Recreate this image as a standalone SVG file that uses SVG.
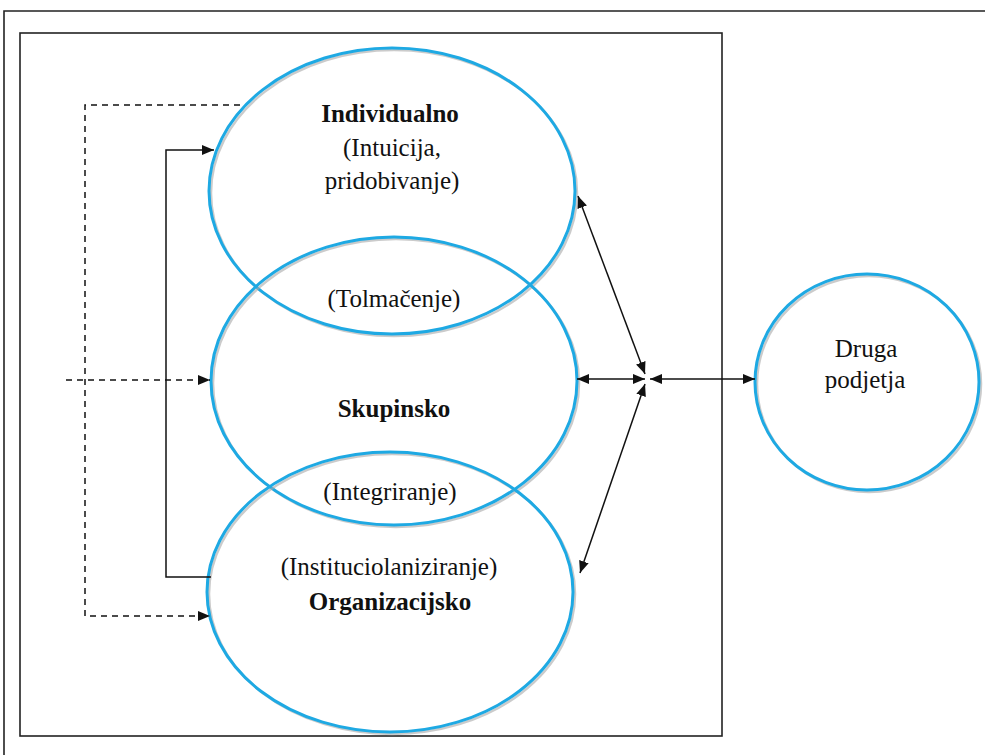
<svg xmlns="http://www.w3.org/2000/svg" width="985" height="755" viewBox="0 0 985 755">
<defs>
<style>
.frame{fill:none;stroke:#222;stroke-width:1.6}
.shadow{fill:none;stroke:#a8a8a8;stroke-width:2.5;opacity:0.6}
.node{fill:none;stroke:#1EA9E3;stroke-width:3}
.ln{fill:none;stroke:#111;stroke-width:1.5}
.dash{fill:none;stroke:#111;stroke-width:1.5;stroke-dasharray:6,5}
text{font-family:"Liberation Serif","Times New Roman",serif;font-size:25px;fill:#111;text-anchor:middle}
.b{font-weight:bold}
</style>
<marker id="ah" viewBox="0 0 12 10" refX="12" refY="5" markerWidth="12" markerHeight="10" markerUnits="userSpaceOnUse" orient="auto-start-reverse">
<path d="M0,0 L12,5 L0,10 Z" fill="#111"/>
</marker>
</defs>
<rect width="985" height="755" fill="#fff"/>
<path class="frame" d="M4,755 V11 H985"/>
<rect class="frame" x="20" y="33" width="702" height="703" stroke-width="2"/>

<g id="node-individualno">
<ellipse class="shadow" cx="394" cy="193" rx="183" ry="143"/>
<ellipse class="node" cx="392" cy="191" rx="183" ry="143"/>
</g>
<g id="node-skupinsko">
<ellipse class="shadow" cx="396" cy="383" rx="183" ry="144"/>
<ellipse class="node" cx="394" cy="381" rx="183" ry="144"/>
</g>
<g id="node-organizacijsko">
<ellipse class="shadow" cx="392" cy="594" rx="183" ry="140"/>
<ellipse class="node" cx="390" cy="592" rx="183" ry="140"/>
</g>
<g id="node-druga">
<ellipse class="shadow" cx="869" cy="384" rx="112" ry="108"/>
<ellipse class="node" cx="867" cy="382" rx="112" ry="108"/>
</g>

<g id="labels">
<text class="b" x="390" y="122">Individualno</text>
<text x="392" y="156">(Intuicija,</text>
<text x="392" y="189">pridobivanje)</text>
<text x="394" y="307">(Tolmačenje)</text>
<text class="b" x="394" y="417">Skupinsko</text>
<text x="390" y="500">(Integriranje)</text>
<text x="389" y="575">(Instituciolaniziranje)</text>
<text class="b" x="390" y="610">Organizacijsko</text>
<text x="866" y="357">Druga</text>
<text x="865" y="388">podjetja</text>
</g>

<g id="connectors">
<path class="dash" d="M240,105 H85 V616 H210" marker-end="url(#ah)"/>
<path class="dash" d="M66,380 H210" marker-end="url(#ah)"/>
<path class="ln" d="M211,577 H166 V150 H214" marker-end="url(#ah)"/>
<path class="ln" d="M577,379 H645" marker-start="url(#ah)" marker-end="url(#ah)"/>
<path class="ln" d="M650,379 H755" marker-start="url(#ah)" marker-end="url(#ah)"/>
<path class="ln" d="M578,196 L645,374" marker-start="url(#ah)" marker-end="url(#ah)"/>
<path class="ln" d="M580,573 L645,384" marker-start="url(#ah)" marker-end="url(#ah)"/>
</g>
</svg>
